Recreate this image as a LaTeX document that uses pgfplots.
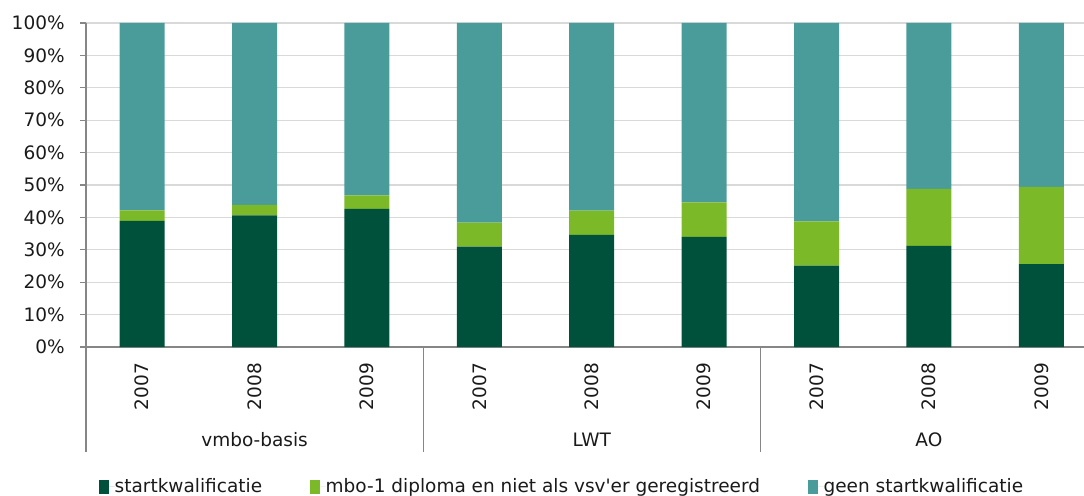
\documentclass[border=0pt]{standalone}
\usepackage{pgfplots}
\pgfplotsset{compat=1.18}
\usepackage{fontspec}
\setmainfont{DejaVu Sans}
\definecolor{cdark}{HTML}{00513B}
\definecolor{cgreen}{HTML}{7BB929}
\definecolor{cteal}{HTML}{4A9C9B}
\definecolor{cgrid}{HTML}{D9D9D9}
\definecolor{caxis}{HTML}{868686}
\definecolor{ctext}{HTML}{1A1A1A}
\begin{document}
\fontsize{18.5bp}{22bp}\selectfont
\begin{tikzpicture}
\path[use as bounding box] (0,0) rectangle (1084bp,496bp);
\begin{axis}[
  at={(86bp,149bp)}, anchor=south west,
  scale only axis, width=998bp, height=324bp,
  ybar stacked, bar width=45bp,
  xmin=-0.5, xmax=8.38, ymin=0, ymax=100,
  clip=false,
  axis lines=left,
  axis line style={-, caxis, line width=1.3bp},
  xtick={0,...,8},
  xticklabels={2007,2008,2009,2007,2008,2009,2007,2008,2009},
  ytick={0,10,...,100},
  yticklabel={\pgfmathprintnumber{\tick}\%},
  /pgf/number format/assume math mode=true,
  ymajorgrids, grid style={cgrid, line width=1.3bp},
  major tick length=6bp, tick align=outside,
  xtick style={draw=none},
  ytick style={caxis, line width=1.2bp},
  tick label style={color=ctext},
  y tick label style={xshift=-9bp},
  x tick label style={yshift=-10bp, rotate=90, anchor=east, inner sep=0pt},
  legend columns=3,
  legend style={at={(0.013,-0.432)}, anchor=west, draw=none, fill=none, inner sep=0pt,
    nodes={inner sep=0pt},
    /tikz/every even column/.append style={column sep=48bp}, text=ctext},
  legend image code/.code={\fill[#1] (0bp,-7bp) rectangle (10bp,7bp); \path (0bp,0bp) -- (15.5bp,0bp);},
]
\addplot[fill=cdark, draw=none] coordinates {(0,38.9) (1,40.6) (2,42.6) (3,31.0) (4,34.6) (5,34.0) (6,25.1) (7,31.2) (8,25.6)};
\addplot[fill=cgreen, draw=none] coordinates {(0,3.3) (1,3.3) (2,4.2) (3,7.4) (4,7.5) (5,10.6) (6,13.7) (7,17.6) (8,23.8)};
\addplot[fill=cteal, draw=none] coordinates {(0,57.8) (1,56.1) (2,53.2) (3,61.6) (4,57.9) (5,55.4) (6,61.2) (7,51.2) (8,50.6)};
\legend{startkwalificatie, mbo-1 diploma en niet als vsv\textquotesingle er geregistreerd, geen startkwalificatie}
\draw[caxis, line width=1.3bp] (axis cs:-0.5,0) -- ++(0bp,-105bp);
\draw[caxis, line width=1.3bp] (axis cs:2.5,0) -- ++(0bp,-105bp);
\draw[caxis, line width=1.3bp] (axis cs:5.5,0) -- ++(0bp,-105bp);
\node[ctext] at (axis cs:1,0) [yshift=-93bp] {vmbo-basis};
\node[ctext] at (axis cs:4,0) [yshift=-93bp] {LWT};
\node[ctext] at (axis cs:7,0) [yshift=-93bp] {AO};
\end{axis}
\end{tikzpicture}
\end{document}
